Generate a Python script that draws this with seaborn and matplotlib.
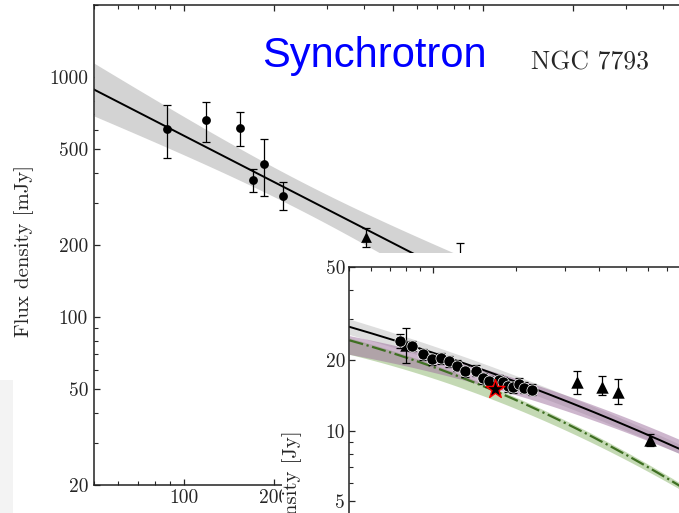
import numpy as np
import matplotlib
matplotlib.use("Agg")
import matplotlib.pyplot as plt
from matplotlib.patches import Rectangle
from matplotlib.ticker import FixedLocator, FixedFormatter, LogLocator, NullFormatter
import seaborn as sns

# main panel: NGC 7793 synchrotron, frequency in MHz, flux density in mJy
freq_mhz = [88, 118, 154, 170, 185, 215]
flux_mjy = [611, 662, 615, 372, 437, 321]
err_lo_mjy = [152, 124, 99, 40, 118, 42]
err_hi_mjy = [156, 127, 100, 41, 116, 46]

tri_freq_mhz = [406, 837]
tri_flux_mjy = [216, 172]
tri_err_lo = [20, 25]
tri_err_hi = [19, 31]

# power-law fit: S = S150 * (nu/150)^alpha, band half-width in dex
fit_s150 = 440.0
fit_alpha = -0.64
band_h0, band_k, band_pivot = 0.06, 0.132, 250.0

# inset: frequency in GHz, flux density in Jy
in_freq = [0.762, 0.840, 0.920, 0.992, 1.072, 1.148, 1.221, 1.308, 1.434, 1.516,
           1.602, 1.741, 1.799, 1.876, 1.956, 2.056, 2.143, 2.279]
in_flux = [24.3, 23.1, 21.2, 20.2, 20.5, 19.8, 19.0, 18.0, 18.1, 16.8,
           16.3, 16.5, 16.1, 15.6, 15.4, 15.9, 15.3, 15.0]
in_err = [1.6, 1.2, 1.1, 1.0, 1.1, 1.0, 1.0, 1.0, 1.0, 0.9,
          0.9, 0.9, 0.9, 0.9, 0.9, 0.9, 0.8, 0.8]

in_tri_freq = [0.801, 3.32, 4.08, 4.69, 6.10]
in_tri_flux = [23.3, 16.2, 15.4, 14.7, 9.1]
in_tri_lo = [3.8, 1.8, 1.2, 1.7, 0.5]
in_tri_hi = [4.1, 1.8, 1.8, 1.9, 0.55]

star_freq = [1.68]
star_flux = [15.1]

# model curves: log10 S = a + b x + c x^2 with x = log10(nu / GHz)
black_coef = (1.3342, -0.3904, -0.0792)
purple_coef = (1.2883, -0.2958, -0.1145)
green_coef = (1.2741, -0.4242, -0.1637)
gray_half = (0.033, 0.02)       # half-width at left / right edge (dex)
purple_half = (0.04, 0.03)
green_lo = (0.06, 0.014)
green_hi = (0.01, 0.013)

W, H = 679, 513
sns.set_style("ticks")
plt.rcParams.update({
    "font.family": ["cmr10", "DejaVu Serif"],
    "axes.unicode_minus": False,
    "axes.formatter.use_mathtext": True,
    "xtick.direction": "in", "ytick.direction": "in",
    "xtick.top": True, "ytick.right": True,
    "xtick.major.size": 4.5, "ytick.major.size": 4.5,
    "xtick.minor.size": 3.2, "ytick.minor.size": 3.2,
    "xtick.major.width": 0.9, "ytick.major.width": 0.9,
    "xtick.minor.width": 0.8, "ytick.minor.width": 0.8,
    "axes.linewidth": 1.1, "axes.edgecolor": "#222222",
})

fig = plt.figure(figsize=(W / 100, H / 100), dpi=100)
fig.patch.set_facecolor("white")

# ---------------- main panel ----------------
ax = fig.add_axes([94 / W, 28 / H, 598 / W, 480 / H])
ax.set_xscale("log")
ax.set_yscale("log")
ax.set_xlim(50, 5000)
ax.set_ylim(20, 2000)

nu = np.logspace(np.log10(50), np.log10(5000), 300)
s_fit = fit_s150 * (nu / 150.0) ** fit_alpha
half = np.sqrt(band_h0 ** 2 + (band_k * np.log10(nu / band_pivot)) ** 2)
ax.fill_between(nu, s_fit * 10 ** half, s_fit / 10 ** half, color="#d3d3d3", lw=0, zorder=1)
sns.lineplot(x=nu, y=s_fit, ax=ax, color="k", lw=1.4, zorder=2)

ax.errorbar(freq_mhz, flux_mjy, yerr=[err_lo_mjy, err_hi_mjy], fmt="none", ecolor="k",
            elinewidth=0.9, capsize=2.7, capthick=0.9, zorder=3)
sns.scatterplot(x=freq_mhz, y=flux_mjy, ax=ax, color="k", marker="o", s=40, linewidth=0, zorder=4)
ax.errorbar(tri_freq_mhz, tri_flux_mjy, yerr=[tri_err_lo, tri_err_hi], fmt="none", ecolor="k",
            elinewidth=0.9, capsize=2.7, capthick=0.9, zorder=3)
sns.scatterplot(x=tri_freq_mhz, y=tri_flux_mjy, ax=ax, color="k", marker="^", s=60, linewidth=0, zorder=4)

ax.xaxis.set_major_locator(FixedLocator([100, 200, 500, 1000, 2000]))
ax.xaxis.set_major_formatter(FixedFormatter(["100", "200", "500", "1000", "2000"]))
ax.xaxis.set_minor_locator(LogLocator(base=10, subs=np.arange(2, 10)))
ax.xaxis.set_minor_formatter(NullFormatter())
ax.yaxis.set_major_locator(FixedLocator([20, 50, 100, 200, 500, 1000]))
ax.yaxis.set_major_formatter(FixedFormatter(["20", "50", "100", "200", "500", "1000"]))
ax.yaxis.set_minor_locator(LogLocator(base=10, subs=np.arange(2, 10)))
ax.yaxis.set_minor_formatter(NullFormatter())
ax.tick_params(axis="x", which="major", labelsize=14, pad=3)
ax.tick_params(axis="y", which="major", labelsize=14, pad=4.3)

fig.text(24 / W, 1 - 251 / H, "Flux density [mJy]", rotation=90, ha="center", va="center",
         fontsize=15, family="cmr10")
fig.text(374 / W, 1 - 66.7 / H, "Synchrotron", ha="center", va="baseline", fontsize=30,
         color="#0000ff", family="Liberation Sans")
fig.text(590 / W, 1 - 70 / H, "NGC 7793", ha="center", va="baseline", fontsize=18.5, family="cmr10")

# slide background pieces
fig.add_artist(Rectangle((0, 0), 13 / W, 133 / H, transform=fig.transFigure,
                         facecolor="#f3f3f3", edgecolor="none", zorder=1))
fig.add_artist(Rectangle((282 / W, 0), (W - 282) / W, 260 / H, transform=fig.transFigure,
                         facecolor="white", edgecolor="none", zorder=1))

# ---------------- inset panel ----------------
ax2 = fig.add_axes([349.4 / W, (H - 735.3) / H, 443.3 / W, 468 / H])
ax2.set_zorder(2)
ax2.set_xscale("log")
ax2.set_yscale("log")
ax2.set_xlim(0.5, 20)
ax2.set_ylim(0.5, 50)

g = np.logspace(np.log10(0.5), np.log10(20), 300)
x = np.log10(g)
t = np.clip((x - x[0]) / (np.log10(7.8) - x[0]), 0, 1)


def curve(c):
    return c[0] + c[1] * x + c[2] * x ** 2


def width(p):
    return p[0] + (p[1] - p[0]) * t


lb, lp, lg = curve(black_coef), curve(purple_coef), curve(green_coef)
ax2.fill_between(g, 10 ** (lb + width(gray_half)), 10 ** (lb - width(gray_half)),
                 color="#dedede", lw=0, zorder=1)
ax2.fill_between(g, 10 ** (lg + width(green_hi)), 10 ** (lg - width(green_lo)),
                 color="#8ab56a", alpha=0.5, lw=0, zorder=1.1)
ax2.fill_between(g, 10 ** (lp + width(purple_half)), 10 ** (lp - width(purple_half)),
                 color="#9d6f9d", alpha=0.5, lw=0, zorder=1.2)
sns.lineplot(x=g, y=10 ** lb, ax=ax2, color="k", lw=1.4, zorder=2)
sns.lineplot(x=g, y=10 ** lg, ax=ax2, color="#3f6f22", lw=1.6, ls="-.", zorder=2)

ax2.errorbar(in_freq, in_flux, yerr=in_err, fmt="none", ecolor="k",
             elinewidth=0.9, capsize=2.7, capthick=0.9, zorder=3)
ax2.errorbar(in_tri_freq, in_tri_flux, yerr=[in_tri_lo, in_tri_hi], fmt="none", ecolor="k",
             elinewidth=0.9, capsize=2.7, capthick=0.9, zorder=3)
sns.scatterplot(x=in_tri_freq, y=in_tri_flux, ax=ax2, color="k", marker="^", s=80,
                linewidth=0, zorder=4)
sns.scatterplot(x=in_freq, y=in_flux, ax=ax2, color="k", marker="o", s=65,
                edgecolor="white", linewidth=0.5, zorder=4)
sns.scatterplot(x=star_freq, y=star_flux, ax=ax2, color="k", marker="*", s=200,
                edgecolor="red", linewidth=1.0, zorder=5)

ax2.xaxis.set_major_locator(FixedLocator([1, 10]))
ax2.xaxis.set_major_formatter(FixedFormatter(["1", "10"]))
ax2.xaxis.set_minor_locator(LogLocator(base=10, subs=np.arange(2, 10)))
ax2.xaxis.set_minor_formatter(NullFormatter())
ax2.yaxis.set_major_locator(FixedLocator([0.5, 1, 2, 5, 10, 20, 50]))
ax2.yaxis.set_major_formatter(FixedFormatter(["0.5", "1", "2", "5", "10", "20", "50"]))
ax2.yaxis.set_minor_locator(LogLocator(base=10, subs=np.arange(2, 10)))
ax2.yaxis.set_minor_formatter(NullFormatter())
ax2.tick_params(axis="both", which="major", labelsize=14, pad=3)

fig.text(292 / W, 1 - 508 / H, "Flux density [Jy]", rotation=90, ha="center", va="center",
         fontsize=15, family="cmr10")

fig.savefig("out.png", dpi=100)
